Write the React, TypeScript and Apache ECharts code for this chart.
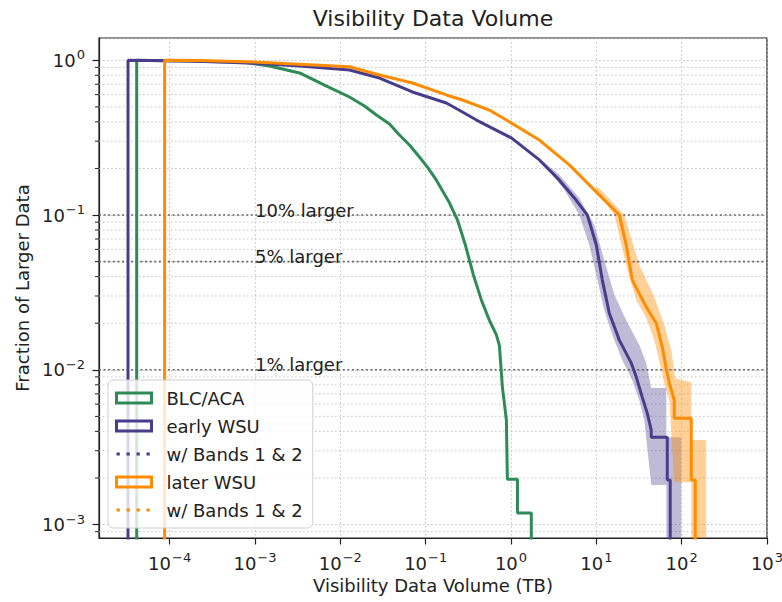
import React, { useEffect, useRef } from 'react';
import * as echarts from 'echarts';

const FONT = "'DejaVu Sans', sans-serif";
const GREEN = '#2e8b57';
const PURPLE = '#483d8b';
const ORANGE = '#ff8c00';
const PURPLE_BAND = 'rgba(72,61,139,0.35)';
const ORANGE_BAND = 'rgba(255,140,0,0.4)';
const GRID_COLOR = '#bdbdbd';
const INK = '#222';

// axis ranges (data units)
const X_MIN = 1.486e-5;
const X_MAX = 1000;
const Y_MIN = 8.19e-4;
const Y_MAX = 1.393;
const Y_FLOOR = 5e-4; // curves drop below the visible range

// Survival curves: [volume TB, fraction of larger data]
const blcAca: [number, number][] = [
  [4.11e-5, Y_FLOOR], [4.11e-5, 1.0], [7.16e-4, 0.975], [1.48e-3, 0.918], [3.33e-3, 0.828],
  [6.53e-3, 0.692], [0.0128, 0.579], [0.0192, 0.507], [0.0265, 0.443], [0.0377, 0.388],
  [0.0493, 0.329], [0.0646, 0.2835], [0.0845, 0.237], [0.105, 0.204], [0.1337, 0.168],
  [0.19, 0.12], [0.236, 0.0929], [0.292, 0.064], [0.363, 0.0409], [0.45, 0.0282],
  [0.558, 0.0209], [0.674, 0.0168], [0.731, 0.0144], [0.793, 0.00773], [0.883, 0.00473],
  [0.907, 0.00196], [1.19, 0.00196], [1.19, 0.00119], [1.73, 0.00119], [1.73, Y_FLOOR],
];

const earlyWsu: [number, number][] = [
  [3.25e-5, Y_FLOOR], [3.25e-5, 1.0], [1.71e-4, 0.99], [9.9e-4, 0.956], [3.33e-3, 0.919],
  [0.0128, 0.866], [0.0288, 0.768], [0.07, 0.624], [0.175, 0.53], [0.27, 0.463],
  [0.394, 0.411], [1.01, 0.315], [2.15, 0.227], [3.69, 0.168], [5.53, 0.129], [7.85, 0.1],
  [10.0, 0.064], [11.75, 0.038], [14.2, 0.0232], [18.6, 0.01555], [25.7, 0.01104],
  [29.4, 0.00897], [34.5, 0.00666], [39.5, 0.00525], [44.0, 0.00408], [44.0, 0.00367],
  [67.8, 0.00367], [67.8, 0.00194], [73.4, 0.00194], [73.4, Y_FLOOR],
];

const laterWsu: [number, number][] = [
  [8.73e-5, Y_FLOOR], [8.73e-5, 1.0], [2.24e-4, 0.995], [9.9e-4, 0.975], [0.0128, 0.909],
  [0.0288, 0.804], [0.07, 0.713], [0.175, 0.597], [0.27, 0.554], [0.558, 0.477],
  [0.883, 0.411], [2.15, 0.305], [4.83, 0.211], [10.8, 0.135], [18.6, 0.1], [22.4, 0.064],
  [26.4, 0.038], [38.5, 0.0254], [50.4, 0.02], [59.3, 0.014], [66.1, 0.0101], [71.7, 0.0082],
  [81.9, 0.00637], [81.9, 0.00487], [129.5, 0.00487], [129.5, 0.00194], [144.2, 0.00194],
  [144.2, Y_FLOOR],
];

// uncertainty bands (polygon outline)
const earlyBand: [number, number][] = [
  [2.15, 0.2336], [3.69, 0.1814], [6.32, 0.1288], [9.48, 0.0861], [12.4, 0.0512],
  [16.3, 0.0304], [22.4, 0.0209], [31.9, 0.01445], [38.5, 0.01104], [44.0, 0.00762],
  [66.1, 0.00762], [66.1, 0.00367], [98.9, 0.00367], [98.9, Y_MIN], [66.1, Y_MIN],
  [66.1, 0.0018], [44.0, 0.0018], [36.5, 0.00473], [31.9, 0.00637], [26.4, 0.00857],
  [20.1, 0.01156], [15.4, 0.0168], [12.4, 0.0243], [10.3, 0.038], [8.28, 0.064],
  [6.32, 0.1], [4.22, 0.1451], [2.46, 0.2105],
];

const laterBand: [number, number][] = [
  [10.8, 0.1494], [21.3, 0.1], [31.9, 0.0475], [47.8, 0.0295], [62.6, 0.01945],
  [75.5, 0.01341], [84.2, 0.00883], [129.5, 0.00832], [129.5, 0.00352], [194, 0.00352],
  [194, Y_MIN], [129.5, Y_MIN], [129.5, 0.00188], [81.9, 0.00188], [71.7, 0.00637],
  [62.6, 0.0082], [56.1, 0.01072], [47.8, 0.01555], [38.5, 0.0216], [29.4, 0.0283],
  [23.1, 0.0442], [16.3, 0.1], [9.48, 0.1494],
];

// reference levels
const refLevels = [0.1, 0.05, 0.01];
const refLabels = ['10% larger', '5% larger', '1% larger'];
const refLabelX = 1e-3;

// matplotlib-style minor ticks on the y axis
const yMinorTicks = [
  9e-4,
  2e-3, 3e-3, 4e-3, 5e-3, 6e-3, 7e-3, 8e-3, 9e-3,
  0.02, 0.03, 0.04, 0.05, 0.06, 0.07, 0.08, 0.09,
  0.2, 0.3, 0.4, 0.5, 0.6, 0.7, 0.8, 0.9,
];

const legendNames = ['BLC/ACA', 'early WSU', 'w/ Bands 1 & 2', 'later WSU', 'w/ Bands 1 & 2 '];

function powLabel(v: number): string {
  const l = Math.log10(v);
  const r = Math.round(l);
  if (Math.abs(l - r) > 1e-6) return '';
  const e = r < 0 ? '\u2212' + Math.abs(r) : String(r);
  return `{b|10}{s|${e}}`;
}

const richLabel = {
  b: { fontSize: 18, fontFamily: FONT, color: INK, verticalAlign: 'bottom', lineHeight: 18 },
  s: { fontSize: 13, fontFamily: FONT, color: INK, verticalAlign: 'bottom', lineHeight: 13, padding: [0, 0, 8, 1] },
};

export default function App() {
  const ref = useRef<HTMLDivElement>(null);
  useEffect(() => {
    document.body.style.margin = '0';
    if (!ref.current) return;
    const chart = echarts.init(ref.current, null, { renderer: 'svg' });
    const option: any = {
      animation: false,
      backgroundColor: '#fff',
      title: {
        text: 'Visibility Data Volume',
        left: 433,
        top: 7,
        textAlign: 'center',
        padding: 0,
        textStyle: { fontSize: 22, fontWeight: 'normal', fontFamily: FONT, color: INK },
      },
      grid: {
        left: 99, top: 38, width: 668, height: 500,
        show: true, borderColor: INK, borderWidth: 1.2, backgroundColor: 'transparent',
        containLabel: false, outerBoundsMode: 'none',
      },
      legend: {
        orient: 'vertical',
        left: 108, top: 380,
        itemWidth: 35, itemHeight: 10, itemGap: 8,
        padding: [8, 10, 8, 7],
        backgroundColor: 'rgba(255,255,255,0.8)',
        borderColor: '#d0d0d0', borderWidth: 1, borderRadius: 5,
        selectedMode: false,
        textStyle: { fontSize: 18, fontFamily: FONT, color: INK, lineHeight: 20, padding: [0, 0, 0, 10] },
        formatter: (n: string) => n.trim(),
        data: [
          { name: legendNames[0], icon: 'rect', itemStyle: { color: 'rgba(0,0,0,0)', borderColor: GREEN, borderWidth: 3 } },
          { name: legendNames[1], icon: 'rect', itemStyle: { color: 'rgba(0,0,0,0)', borderColor: PURPLE, borderWidth: 3 } },
          { name: legendNames[2], itemStyle: { opacity: 0 }, lineStyle: { color: PURPLE, width: 3, type: [3.3, 6.7] } },
          { name: legendNames[3], icon: 'rect', itemStyle: { color: 'rgba(0,0,0,0)', borderColor: ORANGE, borderWidth: 3 } },
          { name: legendNames[4], itemStyle: { opacity: 0 }, lineStyle: { color: ORANGE, width: 3, type: [3.3, 6.7] } },
        ],
      },
      xAxis: {
        type: 'log', logBase: 10, min: X_MIN, max: X_MAX,
        name: 'Visibility Data Volume (TB)', nameLocation: 'middle', nameGap: 38,
        nameTextStyle: { fontSize: 18, fontFamily: FONT, color: INK },
        axisLine: { show: true, lineStyle: { color: INK, width: 1.2 } },
        axisTick: { show: true, inside: false, length: 6.5, lineStyle: { color: INK, width: 1.2 } },
        axisLabel: { show: true, margin: 16, formatter: powLabel, rich: richLabel, showMinLabel: false },
        splitLine: { show: true, lineStyle: { color: GRID_COLOR, width: 0.9, type: [1.5, 2.5] } },
        minorTick: { show: false },
      },
      yAxis: {
        type: 'log', logBase: 10, min: Y_MIN, max: Y_MAX,
        name: 'Fraction of Larger Data', nameLocation: 'middle', nameGap: 67,
        nameTextStyle: { fontSize: 18, fontFamily: FONT, color: INK },
        axisLine: { show: true, lineStyle: { color: INK, width: 1.2 } },
        axisTick: { show: true, inside: false, length: 6.5, lineStyle: { color: INK, width: 1.2 } },
        axisLabel: { show: true, margin: 14, formatter: powLabel, rich: richLabel, showMinLabel: false, showMaxLabel: false },
        splitLine: { show: true, lineStyle: { color: GRID_COLOR, width: 0.9, type: [1.5, 2.5] } },
      },
      series: [
        {
          type: 'custom', name: 'minor', silent: true, z: 1,
          data: yMinorTicks.map((v) => [1, v]),
          renderItem: (params: any, api: any) => {
            const p = api.coord([1, api.value(1)]);
            const cs = params.coordSys;
            return {
              type: 'group',
              children: [
                { type: 'line', shape: { x1: cs.x, y1: p[1], x2: cs.x + cs.width, y2: p[1] }, style: { stroke: GRID_COLOR, lineWidth: 0.9, lineDash: [1.5, 2.5] } },
                { type: 'line', shape: { x1: cs.x - 4, y1: p[1], x2: cs.x, y2: p[1] }, style: { stroke: INK, lineWidth: 1 } },
              ],
            };
          },
        },
        {
          type: 'custom', name: 'earlyBand', silent: true, z: 2,
          data: [[1, 0.1]],
          renderItem: (params: any, api: any) => ({
            type: 'polygon',
            shape: { points: earlyBand.map((d) => api.coord(d)) },
            style: { fill: PURPLE_BAND, stroke: 'none' },
          }),
        },
        {
          type: 'custom', name: 'laterBand', silent: true, z: 2,
          data: [[1, 0.1]],
          renderItem: (params: any, api: any) => ({
            type: 'polygon',
            shape: { points: laterBand.map((d) => api.coord(d)) },
            style: { fill: ORANGE_BAND, stroke: 'none' },
          }),
        },
        {
          type: 'custom', name: 'refs', silent: true, z: 3,
          data: refLevels.map((v) => [refLabelX, v]),
          renderItem: (params: any, api: any) => {
            const p = api.coord([api.value(0), api.value(1)]);
            const cs = params.coordSys;
            return {
              type: 'group',
              children: [
                { type: 'line', shape: { x1: cs.x, y1: p[1], x2: cs.x + cs.width, y2: p[1] }, style: { stroke: '#666', lineWidth: 1.6, lineDash: [2, 2.6] } },
                { type: 'text', x: p[0], y: p[1] + 4, style: { text: refLabels[params.dataIndex], fill: INK, fontSize: 18, fontFamily: FONT, align: 'left', verticalAlign: 'bottom' } },
              ],
            };
          },
        },
        {
          type: 'line', name: legendNames[0], data: blcAca, symbol: 'none', z: 3, clip: true,
          lineStyle: { color: GREEN, width: 3 }, itemStyle: { color: GREEN },
        },
        {
          type: 'line', name: legendNames[1], data: earlyWsu, symbol: 'none', z: 3, clip: true,
          lineStyle: { color: PURPLE, width: 3 }, itemStyle: { color: PURPLE },
        },
        {
          type: 'line', name: legendNames[2], data: [], symbol: 'none', z: 3,
          lineStyle: { color: PURPLE, width: 3, type: [3.3, 6.7] }, itemStyle: { color: PURPLE },
        },
        {
          type: 'line', name: legendNames[3], data: laterWsu, symbol: 'none', z: 3, clip: true,
          lineStyle: { color: ORANGE, width: 3 }, itemStyle: { color: ORANGE },
        },
        {
          type: 'line', name: legendNames[4], data: [], symbol: 'none', z: 3,
          lineStyle: { color: ORANGE, width: 3, type: [3.3, 6.7] }, itemStyle: { color: ORANGE },
        },
      ],
    };
    chart.setOption(option);
    return () => chart.dispose();
  }, []);
  return <div ref={ref} style={{ width: 782, height: 602 }} />;
}
